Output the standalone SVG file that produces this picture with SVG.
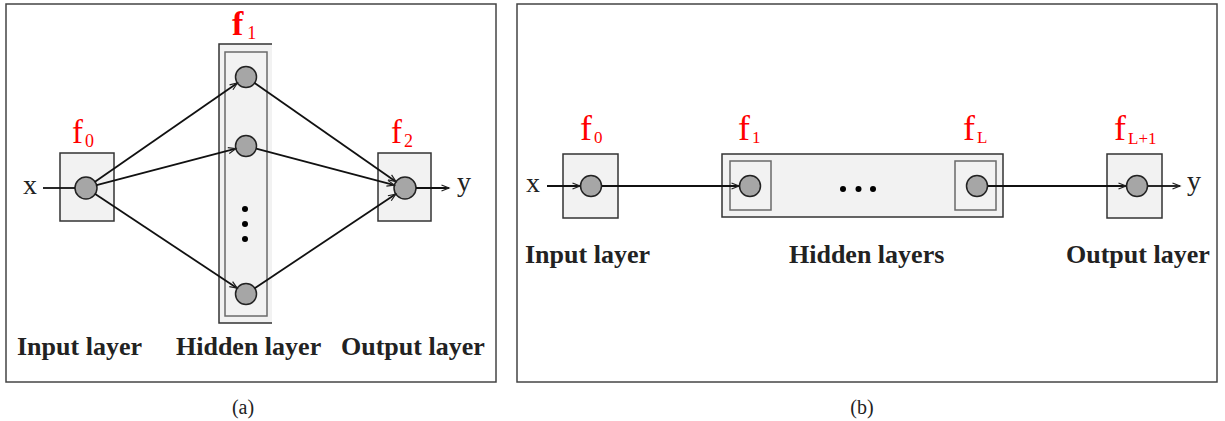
<svg xmlns="http://www.w3.org/2000/svg" width="1225" height="421" viewBox="0 0 1225 421">
<defs>
<marker id="arr" markerWidth="10" markerHeight="8" refX="8" refY="4" orient="auto" markerUnits="userSpaceOnUse">
<path d="M0.5,1 L8,4 L0.5,7" fill="none" stroke="#222" stroke-width="1.2"/>
</marker>
<style>
.panel{fill:#fff;stroke:#444;stroke-width:1.5}
.box{fill:#f2f2f2;stroke:#333;stroke-width:1.5}
.inner{fill:none;stroke:#6a6a6a;stroke-width:1.5}
.node{fill:#a6a6a6;stroke:#222;stroke-width:1.5}
.edge{stroke:#111;stroke-width:1.8;fill:none}
.lbl{font-family:"Liberation Serif",serif;font-weight:bold;font-size:26px;fill:#222}
.var{font-family:"Liberation Serif",serif;font-size:28px;fill:#222}
.cap{font-family:"Liberation Serif",serif;font-size:20px;fill:#222}
.f{font-family:"Liberation Serif",serif;fill:#ff0000}
.dot{fill:#000}
</style>
</defs>
<rect x="0" y="0" width="1225" height="421" fill="#fff"/>
<!-- panels -->
<rect class="panel" x="6" y="4" width="490" height="378"/>
<rect class="panel" x="517" y="4" width="700" height="378"/>

<!-- Panel (a) -->
<g id="a-input">
<rect class="box" x="60" y="153" width="54" height="68"/>
<circle class="node" cx="86" cy="188" r="11"/>
<text class="f" x="72" y="143" font-size="33">f<tspan font-size="18" dx="2" dy="4">0</tspan></text>
</g>
<g id="a-hidden">
<rect x="219" y="44" width="53" height="279" fill="#f2f2f2"/>
<path d="M272,44 H219 V323 H272" fill="none" stroke="#333" stroke-width="1.5"/>
<rect class="inner" x="225" y="52" width="42" height="264"/>
<circle class="node" cx="246" cy="77" r="10.5"/>
<circle class="node" cx="246" cy="146" r="10.5"/>
<circle class="node" cx="246" cy="294" r="10.5"/>
<circle class="dot" cx="245" cy="209" r="3"/>
<circle class="dot" cx="245" cy="224" r="3"/>
<circle class="dot" cx="245" cy="239" r="3"/>
<text class="f" x="232" y="35" font-size="34" font-weight="bold">f<tspan font-size="18" font-weight="normal" dx="4" dy="4">1</tspan></text>
</g>
<g id="a-output">
<rect class="box" x="378" y="153" width="53" height="68"/>
<circle class="node" cx="405" cy="188" r="11"/>
<text class="f" x="391" y="143" font-size="33">f<tspan font-size="18" dx="2" dy="4">2</tspan></text>
</g>
<g id="a-connectors">
<line class="edge" x1="43" y1="188" x2="75" y2="188"/>
<line class="edge" x1="95" y1="181.7" x2="237.4" y2="83" marker-end="url(#arr)"/>
<line class="edge" x1="96.6" y1="185.2" x2="235.8" y2="148.7" marker-end="url(#arr)"/>
<line class="edge" x1="95.2" y1="194.1" x2="237.2" y2="288.2" marker-end="url(#arr)"/>
<line class="edge" x1="254.6" y1="83" x2="396" y2="181.7" marker-end="url(#arr)"/>
<line class="edge" x1="256.2" y1="148.7" x2="394.4" y2="185.2" marker-end="url(#arr)"/>
<line class="edge" x1="254.7" y1="288.2" x2="395.8" y2="194.1" marker-end="url(#arr)"/>
<line class="edge" x1="416" y1="188" x2="449" y2="188" marker-end="url(#arr)"/>
</g>
<text class="var" x="23" y="194">x</text>
<text class="var" x="457" y="191">y</text>
<text class="lbl" x="17" y="355">Input layer</text>
<text class="lbl" x="176" y="355">Hidden layer</text>
<text class="lbl" x="341" y="355">Output layer</text>
<text class="cap" x="243" y="414" text-anchor="middle">(a)</text>

<!-- Panel (b) -->
<g id="b-input">
<rect class="box" x="563" y="154" width="55" height="64"/>
<circle class="node" cx="591" cy="186" r="10.5"/>
<text class="f" x="580" y="140" font-size="36">f<tspan font-size="17" dx="2" dy="3">0</tspan></text>
</g>
<g id="b-hidden">
<rect class="box" x="722" y="154" width="281" height="63"/>
<rect class="inner" x="730" y="161" width="41" height="49"/>
<rect class="inner" x="955" y="161" width="41" height="49"/>
<circle class="node" cx="750" cy="186" r="10.5"/>
<circle class="node" cx="977" cy="186" r="10.5"/>
<circle class="dot" cx="843" cy="189" r="3"/>
<circle class="dot" cx="858.5" cy="189" r="3"/>
<circle class="dot" cx="873" cy="189" r="3"/>
<text class="f" x="738" y="140" font-size="36">f<tspan font-size="17" dx="2" dy="3">1</tspan></text>
<text class="f" x="963" y="140" font-size="36">f<tspan font-size="17" dx="2" dy="3">L</tspan></text>
</g>
<g id="b-output">
<rect class="box" x="1107" y="154" width="55" height="64"/>
<circle class="node" cx="1137" cy="186" r="10.5"/>
<text class="f" x="1114" y="140" font-size="36">f<tspan font-size="17" dx="2" dy="4">L+1</tspan></text>
</g>
<g id="b-connectors">
<line class="edge" x1="547" y1="186" x2="580" y2="186" marker-end="url(#arr)"/>
<line class="edge" x1="602" y1="186" x2="739" y2="186" marker-end="url(#arr)"/>
<line class="edge" x1="988" y1="186" x2="1126" y2="186" marker-end="url(#arr)"/>
<line class="edge" x1="1148" y1="186" x2="1180" y2="186" marker-end="url(#arr)"/>
</g>
<text class="var" x="526" y="192">x</text>
<text class="var" x="1187" y="190">y</text>
<text class="lbl" x="525" y="263">Input layer</text>
<text class="lbl" x="789" y="263">Hidden layers</text>
<text class="lbl" x="1066" y="263">Output layer</text>
<text class="cap" x="862" y="414" text-anchor="middle">(b)</text>
</svg>
